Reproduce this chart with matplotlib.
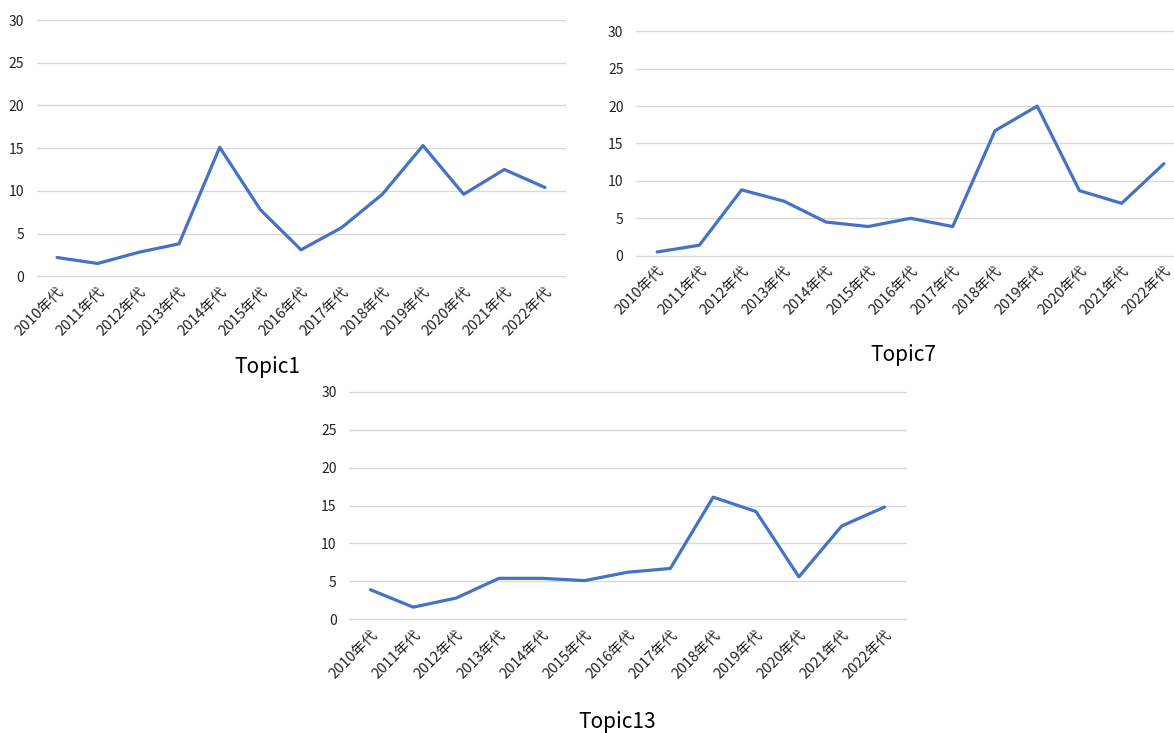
import numpy as np
import matplotlib.pyplot as plt

plt.rcParams['font.family'] = ['Noto Sans CJK JP', 'DejaVu Sans']

years = ['2010年代', '2011年代', '2012年代', '2013年代', '2014年代', '2015年代', '2016年代',
         '2017年代', '2018年代', '2019年代', '2020年代', '2021年代', '2022年代']

topic1 = [2.2, 1.5, 2.8, 3.8, 15.1, 7.8, 3.1, 5.7, 9.6, 15.3, 9.6, 12.5, 10.4]
topic7 = [0.5, 1.4, 8.8, 7.3, 4.5, 3.9, 5.0, 3.9, 16.7, 20.0, 8.7, 7.0, 12.3]
topic13 = [3.9, 1.6, 2.8, 5.4, 5.4, 5.1, 6.2, 6.7, 16.1, 14.2, 5.6, 12.3, 14.8]

W, H = 1174, 733
fig = plt.figure(figsize=(W / 100, H / 100), dpi=100)


def px_axes(left, right, top, bottom):
    # axes box given in pixel coordinates (origin top-left)
    return fig.add_axes([left / W, 1 - bottom / H, (right - left) / W, (bottom - top) / H])


def draw_topic(ax, values, title, tx, ty):
    x = np.arange(len(years))
    ax.plot(x, values, color='#4472C4', linewidth=2.3, solid_capstyle='round')
    ax.set_xlim(-0.5, len(years) - 0.5)
    ax.set_ylim(0, 30)
    ax.set_yticks(np.arange(0, 31, 5))
    ax.set_xticks(x)
    ax.set_xticklabels(years, rotation=45, ha='right', va='top', rotation_mode='anchor')
    ax.tick_params(axis='both', length=0, colors='#222222')
    ax.tick_params(axis='x', pad=6, labelsize=10.5)
    ax.tick_params(axis='y', pad=9, labelsize=10)
    ax.grid(axis='y', color='#D9D9D9', linewidth=1)
    # keep the 0 and 30 gridlines whole at the axes edges
    for gl in ax.get_ygridlines():
        gl.set_clip_on(False)
    ax.set_axisbelow(True)
    for s in ax.spines.values():
        s.set_visible(False)
    fig.text(tx / W, 1 - ty / H, title, ha='center', va='center', fontsize=15, color='black')


ax1 = px_axes(36.7, 565.3, 20, 276.3)
draw_topic(ax1, topic1, 'Topic1', 267, 367)

ax7 = px_axes(636, 1185, 31.3, 255.7)
draw_topic(ax7, topic7, 'Topic7', 903, 355)

ax13 = px_axes(349, 906, 391.7, 619.3)
draw_topic(ax13, topic13, 'Topic13', 617, 722)

fig.savefig('out.png', dpi=100)
